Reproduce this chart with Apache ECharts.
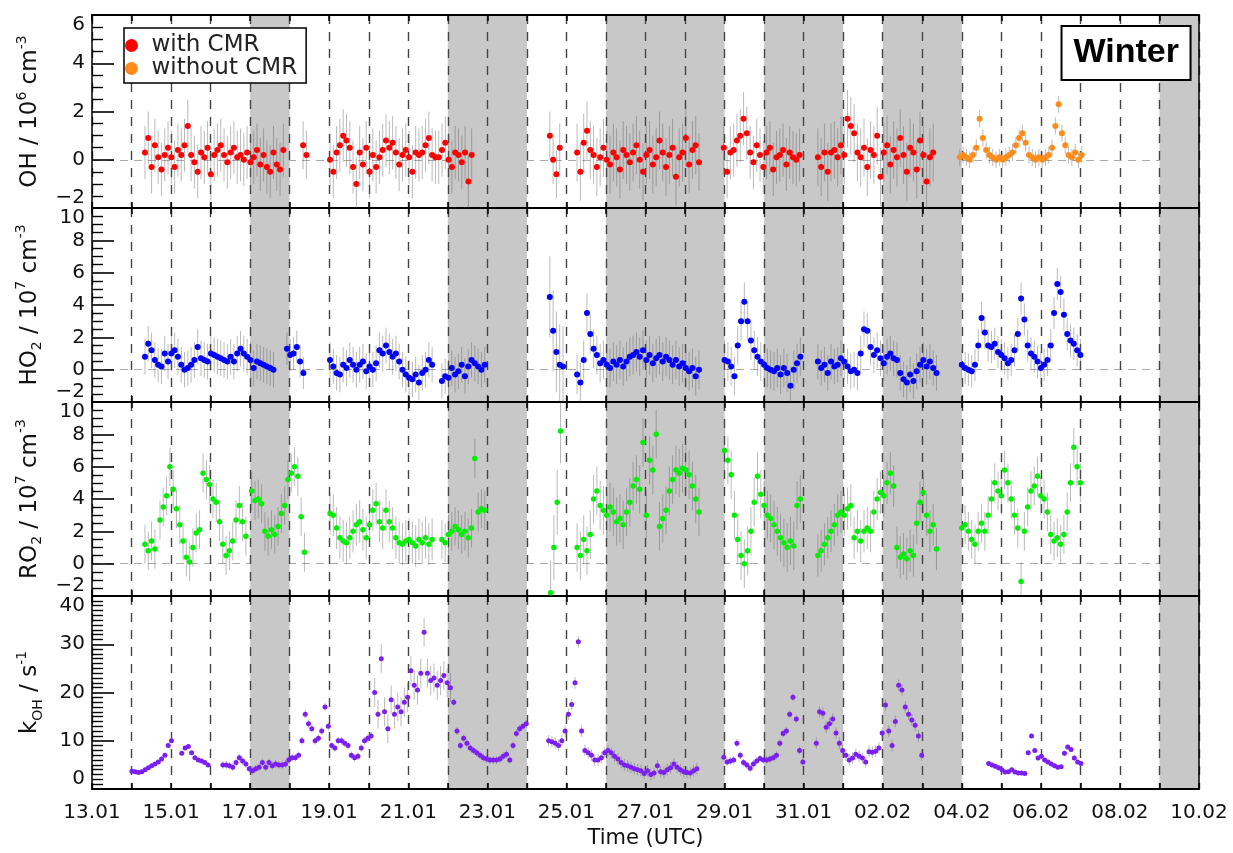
<!DOCTYPE html>
<html>
<head>
<meta charset="utf-8">
<script src="https://cdn.jsdelivr.net/npm/echarts/dist/echarts.min.js"></script>
<style>
  html, body { margin: 0; padding: 0; background: #fff; }
  #chart { width: 1233px; height: 853px; }
</style>
</head>
<body>
<div id="chart"></div>
<script>
// 2 h sampling, time in days since 13.01 00:00
const STEP = 1 / 12;

const xTickLabels = ['13.01', '15.01', '17.01', '19.01', '21.01', '23.01', '25.01', '27.01',
  '29.01', '31.01', '02.02', '04.02', '06.02', '08.02', '10.02'];

// grey shaded periods (days)
const shadeFrom = [4, 9, 13, 17, 20, 27];
const shadeTo = [5, 11, 16, 19, 22, 28];

// OH (10^6 cm-3), with CMR
const ohStart = [1.34, 5.34, 6.02, 11.58, 12.27, 15.98, 18.36];
const ohVals = [
  [0.3, 0.9, -0.3, 0.6, 0.1, -0.4, 0.2, 0.5, 0.1, -0.3, 0.4, 0.2, 0.6, 1.4, 0.2, -0.1, -0.5, 0.3, 0.1, 0.5, -0.6, 0.2, 0.4, 0.6, 0.2, -0.1, 0.3, 0.5, 0.1, 0.2, 0, 0.3, -0.1, 0.1, 0.4, -0.2, 0.2, -0.3, -0.5, 0.3, -0.2, -0.4, 0.4],
  [0.6, 0.2],
  [0, -0.5, 0.3, 0.6, 1.0, 0.8, 0.5, -0.3, -1.0, 0.3, -0.2, 0.5, -0.5, 0.2, -0.3, 0.1, 0.4, 0.8, 0.5, 0.7, 0.3, -0.2, 0.2, 0.4, 0.1, -0.5, 0.3, 0.2, 0.3, 0.6, 0.9, 0.2, 0.1, 0.1, 0.4, 0.7, 0, -0.3, 0.3, 0.2, -0.1, 0.3, -0.9, 0.2],
  [1.0, 0, -0.6, 0.5],
  [0.3, -0.5, 0.7, 1.2, 0.4, 0.2, -0.3, 0.1, 0.5, 0, -0.2, 0.3, 0.1, -0.4, 0.4, 0.2, -0.1, 0.3, 0.6, 0, -0.5, 0.2, 0.4, -0.2, 0.1, 0.8, 0.3, -0.3, 0.2, 0.5, -0.7, 0.1, 0.3, 0.9, -0.2, 0.4, 0.6, -0.1],
  [0.5, -0.5, 0.3, 0.4, 0.8, 1.0, 1.7, 1.1, 0.3, -0.1, 0.6, 0.2, -0.3, 0.3, 0.5, -0.4, 0.1, 0.2, 0.4, -0.2, 0.3, 0.1, 0, 0.2],
  [0.1, -0.3, 0.3, -0.5, 0.3, 0.4, 0.1, 0.6, 0.2, 1.7, 1.4, 1.1, 0.3, 0.1, 0.5, -0.3, 0.4, 0.2, 1.0, -0.7, 0.3, 0.6, -0.2, 0.4, 0.1, 0.9, 0.2, -0.5, 0.5, 0.3, -0.4, 0.8, 0.2, -0.9, 0.1, 0.3]
];
const ohErr = [1.1, 1.0, 1.1, 1.0, 1.2, 1.1, 1.2];

// OH without CMR
const ohNoStart = [21.95];
const ohNoVals = [
  [0.1, 0.2, 0.1, 0.0, 0.2, 0.5, 1.7, 0.9, 0.4, 0.2, 0.1, 0.0, 0.1, 0.0, 0.1, 0.2, 0.3, 0.6, 0.9, 1.1, 0.7, 0.2, 0.1, 0.0, 0.1, 0.0, 0.1, 0.2, 0.5, 1.4, 2.3, 1.1, 0.6, 0.2, 0.1, 0.3, 0.0, 0.2]
];
const ohNoErr = [0.35];

// HO2 (10^7 cm-3)
const ho2Start = [1.34, 4.93, 6.02, 8.85, 11.58, 12.27, 16.0, 18.36, 22.0];
const ho2Vals = [
  [0.8, 1.6, 1.2, 0.6, 0.3, 0.2, 1.0, 0.5, 1.0, 1.2, 0.8, 0.3, 0.0, 0.1, 0.3, 0.6, 1.4, 0.7, 0.6, 0.5, 1.0, 0.9, 0.8, 0.7, 0.6, 0.5, 0.8, 0.5, 1.0, 1.3, 1.0, 0.8, 0.6, 0.1, 0.5, 0.4, 0.3, 0.2, 0.1, 0.0],
  [1.3, 0.9, 1.0, 1.4, 0.5, -0.2],
  [0.6, 0.2, -0.2, -0.3, 0.3, 0.1, 0.6, 0.3, 0.0, 0.3, 0.5, -0.1, 0.2, 0.0, 0.4, 1.2, 1.0, 1.5, 1.1, 0.8, 1.0, 0.5, 0.0, -0.3, -0.5, -0.6, -0.3, -0.8, -0.2, 0.0, 0.6, 0.3],
  [-0.7, -0.4, -0.5, 0.1, -0.3, -0.1, 0.3, -0.4, 0.2, 0.6, 0.4, 0.2, 0.0, 0.3],
  [4.5, 2.4, 1.1, 0.3, 0.2],
  [-0.3, -0.8, 0.6, 3.5, 2.2, 1.3, 0.9, 0.4, 0.6, 0.3, 0.1, 0.5, 0.3, 0.6, 0.2, 0.5, 0.8, 0.9, 1.1, 0.8, 1.2, 0.6, 0.9, 0.4, 0.7, 0.9, 0.5, 0.8, 0.6, 0.3, 0.6, 0.2, 0.4, 0.1, -0.1, 0.1, -0.4, 0.0],
  [0.6, 0.5, 0.2, -0.4, 1.5, 3.0, 4.2, 3.0, 1.8, 1.2, 0.8, 0.5, 0.3, 0.1, 0.0, -0.1, 0.1, -0.3, 0.1, -0.2, -1.0, 0.0, 0.4, 0.8],
  [0.5, 0.1, 0.3, -0.2, 0.5, 0.2, 0.3, 0.7, 0.5, 0.2, -0.1, 0.0, -0.2, 1.0, 2.5, 2.4, 1.4, 0.9, 1.2, 0.7, 0.4, 0.8, 1.0, 0.7, 0.6, -0.2, -0.6, -0.8, -0.3, -0.7, -0.1, 0.3, 0.6, 0.2, 0.5, 0.1, -0.2],
  [0.3, 0.1, 0.0, -0.1, 0.3, 1.5, 3.2, 2.3, 1.5, 1.4, 1.6, 1.1, 0.9, 0.7, 0.4, 0.6, 1.2, 2.2, 4.4, 3.1, 1.5, 1.0, 0.8, 0.5, 0.1, 0.3, 0.6, 1.5, 3.5, 5.3, 4.8, 3.4, 2.2, 1.8, 1.6, 1.2, 0.9]
];
const ho2Err = [1.1, 1.0, 1.1, 1.1, 2.5, 1.2, 1.2, 1.1, 1.0];

// RO2 (10^7 cm-3)
const ro2Start = [1.34, 1.72, 2.81, 4.04, 6.02, 8.85, 11.6, 12.27, 16.0, 18.36, 22.0];
const ro2Vals = [
  [1.2, 0.8, 1.4, 0.9],
  [2.7, 3.5, 4.2, 6.0, 4.6, 3.4, 2.4, 1.4, 0.4, 0.1, 1.0, 1.9, 2.1],
  [5.6, 5.2, 4.9, 4.0, 3.8, 2.6, 1.2, 0.5, 0.8, 1.4, 2.7, 3.6, 2.6, 1.7],
  [4.5, 3.9, 4.0, 3.7, 2.0, 1.7, 2.1, 1.8, 2.3, 3.1, 3.6, 5.2, 5.6, 6.0, 5.4, 2.9, 0.7],
  [3.1, 3.0, 2.2, 1.6, 1.4, 1.3, 1.6, 2.0, 2.4, 2.6, 2.1, 1.6, 2.4, 3.3, 3.7, 2.6, 2.2, 3.3, 2.6, 2.2, 1.6, 1.3, 1.2, 1.4, 1.5, 1.3, 1.1, 1.5, 1.3, 1.6, 1.2, 1.5],
  [1.5, 1.3, 1.8, 2.0, 2.3, 2.1, 1.8, 2.0, 1.6, 2.2, 6.5, 3.2, 3.4, 3.3],
  [-1.8, 1.0, 3.8, 8.2],
  [1.0, 0.5, 1.5, 0.8, 1.8, 4.0, 4.5, 3.6, 3.3, 3.0, 3.5, 3.2, 2.6, 2.8, 2.4, 3.2, 3.8, 4.8, 5.2, 4.6, 7.5, 3.0, 6.4, 5.8, 8.0, 2.3, 2.8, 3.3, 4.5, 5.2, 5.8, 5.6, 5.9, 5.8, 5.5, 4.8, 4.0, 3.2],
  [7.0, 6.4, 5.5, 3.0, 1.5, 0.5, 0.0, 0.8, 2.0, 3.8, 5.4, 4.3, 3.6, 3.0, 2.8, 2.4, 2.0, 1.6, 1.3, 1.0, 1.4, 1.1, 3.6, 4.0],
  [0.5, 0.8, 1.2, 1.6, 2.0, 2.4, 3.0, 3.2, 3.0, 3.4, 3.6, 1.6, 2.0, 1.4, 2.0, 2.2, 2.0, 3.2, 4.0, 4.4, 4.2, 5.0, 5.6, 4.8, 1.0, 0.4, 0.6, 0.3, 0.8, 0.5, 2.5, 3.8, 4.4, 3.0, 2.0, 2.4, 0.9],
  [2.2, 2.4, 2.0, 1.5, 1.2, 2.0, 2.5, 2.0, 3.0, 4.0, 5.0, 4.5, 4.2, 5.8, 5.0, 4.0, 3.0, 2.2, -1.1, 2.0, 3.5, 4.5, 4.8, 5.4, 4.2, 4.0, 3.2, 1.8, 1.4, 1.6, 1.2, 1.8, 3.2, 5.0, 7.2, 6.0, 5.0]
];
const ro2Err = [1.2, 1.2, 1.2, 1.2, 1.3, 1.2, 2.0, 1.5, 1.5, 1.3, 1.2];

// kOH (s-1)
const kohStart = [1.01, 2.27, 3.31, 7.15, 9.15, 11.55, 15.98, 18.32, 22.68];
const kohVals = [
  [3.7, 3.6, 3.4, 3.6, 4.0, 4.4, 4.8, 5.2, 5.6, 6.2, 7.0, 9.0, 10.0],
  [7.4, 8.5, 8.8, 7.5, 6.5, 6.0, 5.8, 5.5, 5.0],
  [5.0, 5.0, 4.8, 4.5, 5.5, 6.5, 5.8, 5.2, 4.2, 3.8, 4.2, 4.5, 5.5, 4.5, 5.5, 4.8, 5.2, 5.0, 5.0, 5.2, 6.0,
   6.5, 6.5, 7.0, 10.0, 15.5, 13.5, 12.5, 10.0, 10.5, 12.0, 17.0, 13.0, 9.0, 8.5, 10.0, 10.0, 9.5, 9.0, 7.0, 6.5, 6.8, 8.5, 10.0, 10.5, 11.0],
  [20.0, 15.5, 27.0, 16.0, 12.5, 18.5, 15.5, 17.0, 16.0, 18.0, 19.0, 24.5, 21.5, 20.5, 24.0, 32.5, 24.0, 22.5, 23.0, 21.5, 22.5, 23.5, 22.0, 21.0],
  [18.0, 12.0, 9.0, 10.5, 9.5, 8.5, 8.0, 7.5, 7.0, 6.5, 6.2, 6.0, 6.0, 6.0, 6.2, 6.8, 7.2, 6.0, 9.0, 11.5, 12.5, 13.0, 13.5],
  [10.0, 9.8, 9.5, 9.0, 10.0, 12.0, 15.5, 17.5, 22.0, 30.5, 12.0, 8.0, 7.5, 7.0, 6.0, 6.0, 6.5, 7.5, 8.0, 7.5, 6.8, 6.2, 5.5, 5.0, 4.8, 4.5, 4.2, 4.0, 3.8, 3.2, 3.8, 3.0, 3.3, 4.8, 3.6, 3.4, 4.0, 4.4, 5.2, 4.5, 4.0, 3.6, 3.4, 3.3, 3.8, 4.2],
  [6.6, 5.6, 5.8, 6.0, 9.5, 7.0, 5.5, 5.0, 4.3, 5.2, 5.8, 6.3, 6.0, 6.0, 6.2, 6.5, 7.0, 9.5, 11.5, 12.0, 15.5, 19.0, 14.5, 8.0, 5.6],
  [9.5, 16.0, 15.7, 12.8, 13.5, 14.5, 11.6, 9.5, 8.0, 7.0, 6.0, 6.4, 7.2, 6.8, 6.4, 5.6, 7.7, 7.6, 7.8, 8.5, 11.6, 17.4, 12.0, 9.0, 14.0, 21.5, 20.5, 17.0, 15.5, 14.3, 13.2, 11.0, 7.0],
  [5.3, 5.0, 4.7, 4.4, 4.0, 3.5, 3.6, 4.0, 3.5, 3.3, 3.3, 3.2, 7.5, 11.0, 8.0, 6.4, 6.8, 6.0, 5.6, 5.2, 4.8, 4.5, 4.6, 7.4, 8.7, 8.2, 6.4, 5.6, 5.3]
];
const kohErr = [0.4, 0.4, 0.8, 3.0, 0.8, 1.2, 0.8, 1.2, 0.5];

const FONT = 'DejaVu Sans';

function expand(starts, vals, errs) {
  const pts = [], bars = [];
  starts.forEach((s, i) => {
    vals[i].forEach((v, j) => {
      const t = s + j * STEP;
      pts.push([t, v]);
      bars.push([t, v - errs[i], v + errs[i]]);
    });
  });
  return { pts, bars };
}

function errorBar(params, api) {
  const cs = params.coordSys;
  const hi = api.coord([api.value(0), api.value(2)]);
  const lo = api.coord([api.value(0), api.value(1)]);
  return {
    type: 'line',
    shape: { x1: hi[0], y1: Math.max(hi[1], cs.y), x2: hi[0], y2: Math.min(lo[1], cs.y + cs.height) },
    style: { stroke: 'rgba(90,90,90,0.42)', lineWidth: 1 }
  };
}

const sub = s => '{sub|' + s + '}';
const sup = s => '{sup|' + s + '}';
const t = s => '{t|' + s + '}';

const panels = [
  { data: expand(ohStart, ohVals, ohErr), color: '#ff0000', name: 'with CMR', min: -2, max: 6, step: 2, minor: 4,
    title: t('OH / 10') + sup('6') + t(' cm') + sup('-3'), size: 6 },
  { data: expand(ho2Start, ho2Vals, ho2Err), color: '#0000ff', name: 'HO2', min: -2, max: 10, step: 2, minor: 4,
    title: t('HO') + sub('2') + t(' / 10') + sup('7') + t(' cm') + sup('-3'), size: 6 },
  { data: expand(ro2Start, ro2Vals, ro2Err), color: '#00ee00', name: 'RO2', min: -2, max: 10, step: 2, minor: 4,
    title: t('RO') + sub('2') + t(' / 10') + sup('7') + t(' cm') + sup('-3'), size: 5.5 },
  { data: expand(kohStart, kohVals, kohErr), color: '#7b1ff2', name: 'kOH', min: 0, max: 40, step: 10, minor: 10,
    title: t('k') + sub('OH') + t(' / s') + sup('-1'), size: 5 }
];
const ohNo = expand(ohNoStart, ohNoVals, ohNoErr);

const gridTop = [15, 208, 402, 596];
const gridHeight = [193, 194, 194, 193];

const grid = gridTop.map((top, i) => ({ left: 92, right: 34, top, height: gridHeight[i], outerBoundsMode: 'none' }));

const xAxis = [];
const yAxis = [];
panels.forEach((p, i) => {
  const last = i === panels.length - 1;
  const common = {
    type: 'value', gridIndex: i, min: 0, max: 28, interval: 1, z: 2,
    axisLine: { show: true, onZero: false, lineStyle: { color: '#000', width: 2 } },
    axisTick: { show: true, inside: true, length: 6, lineStyle: { color: '#000', width: 1.5 } }
  };
  xAxis.push(Object.assign({}, common, {
    position: 'bottom',
    splitLine: { show: true, lineStyle: { color: '#444', width: 1.4, type: [9, 8] } },
    axisLabel: {
      show: last, margin: 14, fontFamily: FONT, fontSize: 20, color: '#111',
      formatter: v => (v % 2 === 0 ? xTickLabels[v / 2] : '')
    },
    name: last ? 'Time (UTC)' : '', nameLocation: 'middle', nameGap: 39,
    nameTextStyle: { fontFamily: FONT, fontSize: 21, color: '#111' }
  }));
  xAxis.push(Object.assign({}, common, {
    position: 'top', splitLine: { show: false }, axisLabel: { show: false }
  }));
  yAxis.push({
    type: 'value', gridIndex: i, position: 'left', min: p.min, max: p.max, interval: p.step, z: 2,
    axisLine: { show: true, onZero: false, lineStyle: { color: '#000', width: 1.5 } },
    axisTick: { show: true, inside: true, length: 22, lineStyle: { color: '#000', width: 1.6 } },
    minorTick: { show: true, splitNumber: p.minor, length: 11, lineStyle: { color: '#000', width: 1.4 } },
    splitLine: { show: false },
    axisLabel: {
      margin: 7, fontFamily: FONT, fontSize: 20, color: '#111',
      verticalAlignMinLabel: 'bottom', verticalAlignMaxLabel: 'top',
      formatter: v => String(v).replace('-', '\u2212')
    },
    name: p.title, nameLocation: 'middle', nameRotate: 90, nameGap: 47,
    nameTextStyle: {
      color: '#111',
      rich: {
        t: { fontFamily: FONT, fontSize: 23, lineHeight: 30, color: '#111' },
        sup: { fontFamily: FONT, fontSize: 14, lineHeight: 16, verticalAlign: 'top', color: '#111' },
        sub: { fontFamily: FONT, fontSize: 14, lineHeight: 16, verticalAlign: 'bottom', color: '#111' }
      }
    }
  });
  yAxis.push({
    type: 'value', gridIndex: i, position: 'right', min: p.min, max: p.max, z: 2,
    axisLine: { show: true, onZero: false, lineStyle: { color: '#000', width: 1.5 } },
    axisTick: { show: false }, axisLabel: { show: false }, splitLine: { show: false }
  });
});

const bands = shadeFrom.map((a, i) => [{ xAxis: a }, { xAxis: shadeTo[i] }]);

const series = [];
panels.forEach((p, i) => {
  series.push({
    type: 'custom', xAxisIndex: 2 * i, yAxisIndex: 2 * i, z: 3, silent: true,
    renderItem: errorBar, encode: { x: 0, y: [1, 2] }, data: p.data.bars
  });
  series.push({
    type: 'scatter', name: p.name, xAxisIndex: 2 * i, yAxisIndex: 2 * i, z: 4, silent: true,
    symbol: 'circle', symbolSize: p.size, itemStyle: { color: p.color, opacity: 1 },
    data: p.data.pts,
    markArea: { silent: true, z: 1, itemStyle: { color: '#c8c8c8', opacity: 1 }, data: bands },
    markLine: i < 3 ? {
      silent: true, z: 0.5, symbol: ['none', 'none'], label: { show: false },
      lineStyle: { color: '#aaa', width: 1, type: [8, 6] }, data: [{ yAxis: 0 }]
    } : undefined
  });
});
series.push({
  type: 'custom', xAxisIndex: 0, yAxisIndex: 0, z: 3, silent: true,
  renderItem: errorBar, encode: { x: 0, y: [1, 2] }, data: ohNo.bars
});
series.push({
  type: 'scatter', name: 'without CMR', xAxisIndex: 0, yAxisIndex: 0, z: 4, silent: true,
  symbol: 'circle', symbolSize: 6, itemStyle: { color: '#ff8c1a', opacity: 1 }, data: ohNo.pts
});

const chart = echarts.init(document.getElementById('chart'));
chart.setOption({
  animation: false,
  backgroundColor: '#fff',
  title: {
    text: 'Winter', right: 42, top: 26, padding: [8, 12],
    borderColor: '#000', borderWidth: 2, backgroundColor: '#fff',
    textStyle: { fontFamily: 'Liberation Sans', fontSize: 34, fontWeight: 'bold', color: '#000', lineHeight: 38 }
  },
  legend: {
    data: ['with CMR', 'without CMR'], orient: 'vertical', left: 124, top: 28,
    icon: 'circle', itemWidth: 30, itemHeight: 13, itemGap: 0,
    padding: [6, 9, 3, 1], backgroundColor: '#fff', borderColor: '#000', borderWidth: 1.5,
    textStyle: { fontFamily: FONT, fontSize: 23, lineHeight: 20, color: '#222' }, z: 10, selectedMode: false
  },
  grid, xAxis, yAxis, series
});
</script>
</body>
</html>
